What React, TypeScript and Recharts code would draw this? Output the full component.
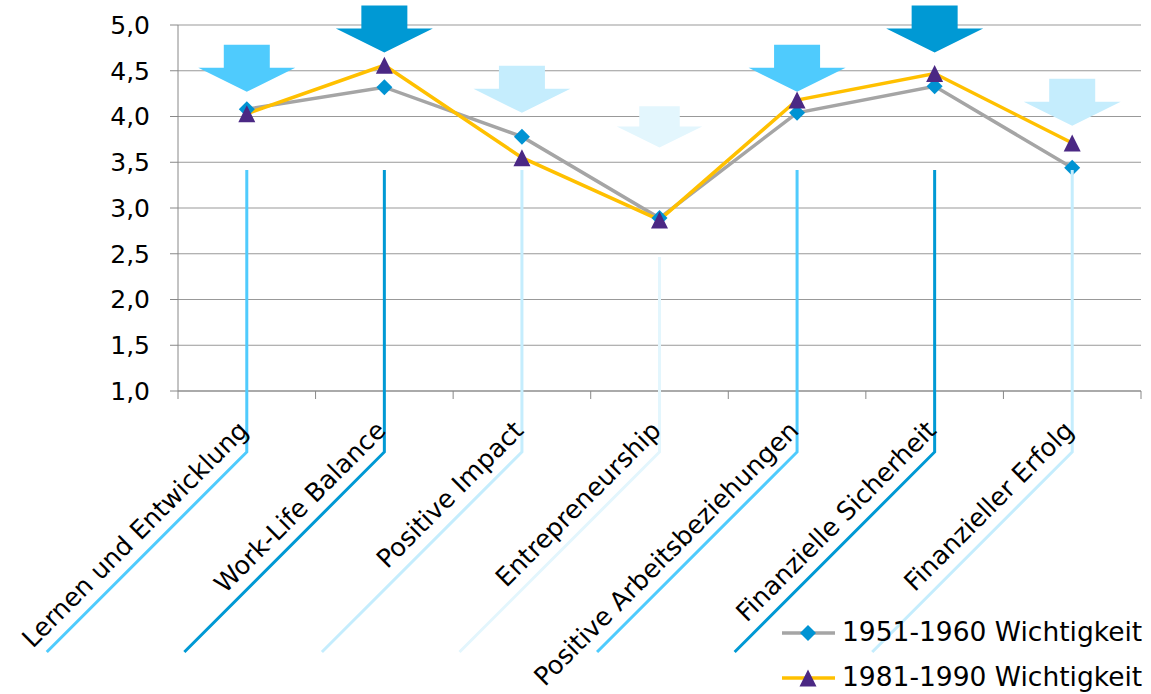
import React from "react";
import {
  ComposedChart,
  Line,
  Scatter,
  XAxis,
  YAxis,
  CartesianGrid,
  Legend,
} from "recharts";

const categories = [
  "Lernen und Entwicklung",
  "Work-Life Balance",
  "Positive Impact",
  "Entrepreneurship",
  "Positive Arbeitsbeziehungen",
  "Finanzielle Sicherheit",
  "Finanzieller Erfolg",
];
const wichtigkeit1951 = [4.08, 4.32, 3.78, 2.89, 4.04, 4.33, 3.44];
const wichtigkeit1981 = [4.03, 4.56, 3.55, 2.87, 4.18, 4.47, 3.71];
// where the decorative arrows point to
const arrowTips = [4.27, 4.7, 4.04, 3.66, 4.27, 4.7, 3.9];
const yTicks = [1, 1.5, 2, 2.5, 3, 3.5, 4, 4.5, 5];
const bandTicks = [0, 1, 2, 3, 4, 5, 6, 7];
const centerTicks = [0.5, 1.5, 2.5, 3.5, 4.5, 5.5, 6.5];

const seriesNames = ["1951-1960 Wichtigkeit", "1981-1990 Wichtigkeit"];

const data = categories.map((cat, i) => ({
  pos: i + 0.5,
  cat,
  w1951: wichtigkeit1951[i],
  w1981: wichtigkeit1981[i],
  arrow: arrowTips[i],
}));

// styling
const FONT = "'DejaVu Sans', Verdana, sans-serif";
const palette = ["#4FCBFD", "#0099D4", "#C5EDFD", "#E3F6FD", "#4FCBFD", "#0099D4", "#C5EDFD"];
const arrowScale = [1, 1, 1, 0.88, 1, 1, 1];
const connectorLift = [221, 221, 221, 134, 221, 221, 221];
const GRAY = "#A5A5A5";
const DIAMOND = "#0093D3";
const YELLOW = "#FFC000";
const PURPLE = "#4B2884";

const Diamond = ({ cx, cy, r = 8 }: any) => (
  <polygon
    points={`${cx},${cy - r} ${cx + r},${cy} ${cx},${cy + r} ${cx - r},${cy}`}
    fill={DIAMOND}
  />
);

const Triangle = ({ cx, cy, s = 17 }: any) => (
  <polygon
    points={`${cx},${cy - s / 2} ${cx + s / 2},${cy + s / 2} ${cx - s / 2},${cy + s / 2}`}
    fill={PURPLE}
  />
);

const ArrowShape = (props: any) => {
  const { cx, cy, payload } = props;
  const i = categories.indexOf(payload.cat);
  const k = arrowScale[i];
  const hw = 48.5 * k;
  const hh = 24 * k;
  const sw = 23 * k;
  const sh = 23 * k;
  const pts = [
    [cx, cy],
    [cx - hw, cy - hh],
    [cx - sw, cy - hh],
    [cx - sw, cy - hh - sh],
    [cx + sw, cy - hh - sh],
    [cx + sw, cy - hh],
    [cx + hw, cy - hh],
  ]
    .map((p) => p.join(","))
    .join(" ");
  return <polygon points={pts} fill={palette[i]} />;
};

// label + connector line below each category, y is the x-axis line
const CategoryTick = (props: any) => {
  const { x, payload } = props;
  const y = props.y - 1;
  const i = Math.floor(payload.value);
  const tx = x + 3;
  const ty = y + 41;
  return (
    <g>
      <polyline
        points={`${x},${y - connectorLift[i]} ${x},${y + 61} ${x - 200},${y + 261}`}
        fill="none"
        stroke={palette[i]}
        strokeWidth={3}
      />
      <text
        x={tx}
        y={ty}
        transform={`rotate(-45, ${tx}, ${ty})`}
        textAnchor="end"
        fontSize={25.5}
        fontFamily={FONT}
        fill="#000"
      >
        {categories[i]}
      </text>
    </g>
  );
};

const LegendContent = () => (
  <div style={{ fontFamily: FONT, fontSize: 26.5, color: "#000", lineHeight: 1 }}>
    {seriesNames.map((name, i) => (
      <div key={name} style={{ display: "flex", alignItems: "center", height: 45 }}>
        <svg width={60} height={24}>
          <line x1={0} x2={53} y1={12} y2={12} stroke={i === 0 ? GRAY : YELLOW} strokeWidth={3.5} />
          {i === 0 ? <Diamond cx={26} cy={12} /> : <Triangle cx={26} cy={12} />}
        </svg>
        <span>{name}</span>
      </div>
    ))}
  </div>
);

export default function App() {
  return (
    <div style={{ position: "absolute", left: 0, top: 0, width: 1151, height: 694 }}>
      <ComposedChart
        width={1151}
        height={694}
        data={data}
        margin={{ top: 25, right: 10, left: 0, bottom: 301 }}
        style={{ fontFamily: FONT, overflow: "visible" }}
      >
        <CartesianGrid vertical={false} stroke="#999999" />
        <YAxis
          type="number"
          domain={[1, 5]}
          ticks={yTicks}
          width={178}
          tickSize={8}
          tickMargin={20}
          axisLine={{ stroke: "#888888" }}
          tickLine={{ stroke: "#888888" }}
          tick={{ fontSize: 25, fill: "#000", fontFamily: FONT }}
          tickFormatter={(v: number) => v.toFixed(1).replace(".", ",")}
        />
        <XAxis
          type="number"
          dataKey="pos"
          domain={[0, 7]}
          ticks={bandTicks}
          height={1}
          tickSize={8}
          tickFormatter={() => ""}
          axisLine={{ stroke: "#888888" }}
          tickLine={{ stroke: "#888888" }}
        />
        <XAxis
          xAxisId="cat"
          type="number"
          dataKey="pos"
          domain={[0, 7]}
          ticks={centerTicks}
          height={1}
          tickSize={0}
          tickMargin={0}
          axisLine={false}
          tickLine={false}
          tick={<CategoryTick />}
          interval={0}
        />
        <Scatter dataKey="arrow" shape={<ArrowShape />} isAnimationActive={false} />
        <Line
          dataKey="w1951"
          stroke={GRAY}
          strokeWidth={3.5}
          dot={(p: any) => <Diamond key={`d1-${p.index}`} cx={p.cx} cy={p.cy} />}
          activeDot={false}
          isAnimationActive={false}
        />
        <Line
          dataKey="w1981"
          stroke={YELLOW}
          strokeWidth={3.5}
          dot={(p: any) => <Triangle key={`d2-${p.index}`} cx={p.cx} cy={p.cy} />}
          activeDot={false}
          isAnimationActive={false}
        />
        <Legend
          layout="vertical"
          align="center"
          verticalAlign="middle"
          content={<LegendContent />}
          wrapperStyle={{ left: 782, top: 610, width: 369, height: 84 }}
        />
      </ComposedChart>
    </div>
  );
}
